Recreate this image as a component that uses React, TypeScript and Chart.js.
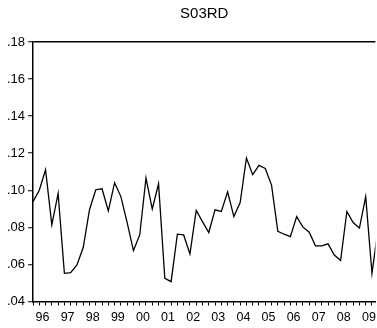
import React, { useEffect, useRef } from 'react';
import { Chart, registerables } from 'chart.js';

Chart.register(...registerables);

const TITLE = 'S03RD';
const YEARS = ['96', '97', '98', '99', '00', '01', '02', '03', '04', '05', '06', '07', '08', '09'];
const QUARTER_NAMES = ['Q1', 'Q2', 'Q3', 'Q4'];
const Y_TICKS = [0.04, 0.06, 0.08, 0.1, 0.12, 0.14, 0.16, 0.18];
// quarterly values, 1996Q1 .. 2009Q4
const S03RD = [
  0.0939, 0.1000, 0.1111, 0.0814,
  0.0983, 0.0552, 0.0556, 0.0597,
  0.0691, 0.0895, 0.1003, 0.1008,
  0.0889, 0.1041, 0.0966, 0.0826,
  0.0675, 0.0759, 0.1066, 0.0899,
  0.1035, 0.0525, 0.0507, 0.0763,
  0.0759, 0.0657, 0.0891, 0.0831,
  0.0772, 0.0895, 0.0886, 0.0992,
  0.0858, 0.0934, 0.1174, 0.1084,
  0.1134, 0.1118, 0.1028, 0.0779,
  0.0763, 0.0750, 0.0858, 0.0801,
  0.0774, 0.0700, 0.0700, 0.0711,
  0.0651, 0.0621, 0.0886, 0.0826,
  0.0796, 0.0966, 0.0552, 0.0800,
];
const QUARTERS = YEARS.flatMap((y) => QUARTER_NAMES.map((q) => y + q));
const X_MAX = 54.55; // visible range (plot is cut at the right edge)

const FONT = 'Liberation Sans, Arial, sans-serif';

export default function App() {
  const ref = useRef<HTMLCanvasElement | null>(null);

  useEffect(() => {
    const canvas = ref.current;
    if (!canvas) return;
    const chart = new Chart(canvas, {
      type: 'line',
      data: {
        datasets: [
          {
            label: TITLE,
            data: S03RD.map((v, i) => ({ x: i, y: v })),
            borderColor: '#000',
            borderWidth: 1.3,
            pointRadius: 0,
            tension: 0,
            fill: false,
          },
        ],
      },
      options: {
        animation: false,
        responsive: false,
        maintainAspectRatio: false,
        layout: { padding: 0 },
        plugins: {
          legend: { display: false },
          tooltip: { enabled: false },
          title: {
            display: true,
            text: TITLE,
            fullSize: false,
            color: '#000',
            font: { family: FONT, size: 15, weight: 'normal' },
            padding: { top: 5, bottom: 19 },
          },
        },
        scales: {
          x: {
            type: 'linear',
            min: 0,
            max: X_MAX,
            afterBuildTicks: (scale: any) => {
              scale.ticks = QUARTERS.map((_, i) => ({ value: i })).filter((t) => t.value <= X_MAX);
            },
            afterFit: (scale: any) => {
              scale.height = 26.5;
            },
            grid: {
              drawOnChartArea: false,
              drawTicks: true,
              tickLength: 4,
              tickColor: '#000',
              tickWidth: 1,
            },
            border: { display: true, color: '#000', width: 1.5 },
            ticks: {
              autoSkip: false,
              maxRotation: 0,
              minRotation: 0,
              labelOffset: 9.5,
              padding: 5,
              color: '#000',
              font: { family: FONT, size: 12.5 },
              callback: (value: any) => {
                const i = Number(value);
                return i % 4 === 0 ? YEARS[i / 4] : '';
              },
            },
          },
          y: {
            min: 0.04,
            max: 0.18,
            afterBuildTicks: (scale: any) => {
              scale.ticks = Y_TICKS.map((v) => ({ value: v }));
            },
            afterFit: (scale: any) => {
              scale.width = 33;
            },
            grid: {
              drawOnChartArea: true,
              color: (ctx: any) =>
                ctx.tick && Math.abs(ctx.tick.value - 0.18) < 1e-9 ? '#000' : 'rgba(0,0,0,0)',
              lineWidth: 1.5,
              drawTicks: true,
              tickLength: 5,
              tickColor: '#000',
              tickWidth: 1,
            },
            border: { display: true, color: '#000', width: 1.5 },
            ticks: {
              padding: 3,
              color: '#000',
              font: { family: FONT, size: 13 },
              callback: (value: any) => Number(value).toFixed(2).replace(/^0/, ''),
            },
          },
        },
      },
    });
    return () => chart.destroy();
  }, []);

  return (
    <div style={{ position: 'fixed', left: 0, top: 0, width: 377, height: 328, background: '#fff' }}>
      <canvas ref={ref} width={377} height={328} style={{ display: 'block', width: 377, height: 328 }} />
    </div>
  );
}
